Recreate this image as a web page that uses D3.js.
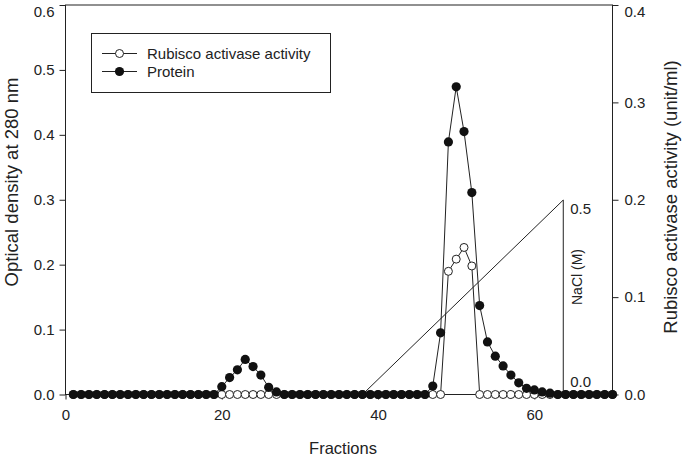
<!DOCTYPE html>
<html>
<head>
<meta charset="utf-8">
<script src="https://cdn.jsdelivr.net/npm/d3@7"></script>
<style>
  html, body { margin: 0; padding: 0; background: #fff; }
  svg { display: block; }
  text { font-family: "Liberation Sans", Arial, sans-serif; fill: #222; }
</style>
</head>
<body>
<svg id="chart" width="682" height="456"></svg>
<script>
// ---- data ----
const fractions = [1,2,3,4,5,6,7,8,9,10,11,12,13,14,15,16,17,18,19,20,
  21,22,23,24,25,26,27,28,29,30,31,32,33,34,35,36,37,38,39,40,
  41,42,43,44,45,46,47,48,49,50,51,52,53,54,55,56,57,58,59,60,
  61,62,63,64,65,66,67,68,69,70];
const protein = [0,0,0,0,0,0,0,0,0,0,0,0,0,0,0,0,0,0,0,0.012,
  0.026,0.038,0.054,0.043,0.030,0.011,0.004,0,0,0,0,0,0,0,0,0,0,0,0,0,
  0,0,0,0,0,0,0.013,0.095,0.389,0.474,0.405,0.311,0.137,0.081,0.059,0.044,0.030,0.018,0.0095,0.007,
  0.004,0.002,0,0,0,0,0,0,0,0];
const activity = [0,0,0,0,0,0,0,0,0,0,0,0,0,0,0,0,0,0,0,0,
  0,0,0,0,0,0,0,0,0,0,0,0,0,0,0,0,0,0,0,0,
  0,0,0,0,0,0,0,0,0.1265,0.139,0.151,0.132,0,0,0,0,0,0,0,0,
  0,0,0,0,0,0,0,0,0,0];
const naclFractions = [38, 63.7];
const naclValues = [0, 0.5];
const xTicks = [0, 20, 40, 60];
const yLeftTicks = [0, 0.1, 0.2, 0.3, 0.4, 0.5, 0.6];
const yRightTicks = [0, 0.1, 0.2, 0.3, 0.4];
const naclTicks = [0, 0.5];
const legendLabels = ["Rubisco activase activity", "Protein"];
const xTitle = "Fractions";
const yLeftTitle = "Optical density at 280 nm";
const yRightTitle = "Rubisco activase activity (unit/ml)";
const naclTitle = "NaCl (M)";

// ---- layout ----
const L = 65.5, R = 612.5, T = 5, B = 394.5;
const svg = d3.select("#chart");
const ink = "#222";

const x = d3.scaleLinear().domain([0, 70]).range([L, R]);
const yL = d3.scaleLinear().domain([0, 0.6]).range([B, T]);
const yR = d3.scaleLinear().domain([0, 0.4]).range([B, T]);
const yN = d3.scaleLinear().domain([0, 0.5]).range([B, 200]);

// frame
svg.append("rect").attr("x", L).attr("y", T).attr("width", R - L).attr("height", B - T)
  .attr("fill", "none").attr("stroke", ink).attr("stroke-width", 1);

function styleAxis(g) {
  g.select(".domain").remove();
  g.selectAll(".tick line").attr("stroke", ink);
  g.selectAll(".tick text").attr("fill", ink).style("font-size", "15px")
    .style("font-family", '"Liberation Sans", Arial, sans-serif');
}

svg.append("g").attr("transform", `translate(0,${B})`)
  .call(d3.axisBottom(x).tickValues(xTicks).tickFormat(d3.format("d")).tickSize(5).tickPadding(10))
  .call(styleAxis);
const gL = svg.append("g").attr("transform", `translate(${L},0)`)
  .call(d3.axisLeft(yL).tickValues(yLeftTicks).tickFormat(d3.format(".1f")).tickSize(6).tickPadding(5))
  .call(styleAxis);
const gR = svg.append("g").attr("transform", `translate(${R},0)`)
  .call(d3.axisRight(yR).tickValues(yRightTicks).tickFormat(d3.format(".1f")).tickSize(6).tickPadding(6))
  .call(styleAxis);
// keep the top labels inside the window
gL.selectAll(".tick").filter(d => d === 0.6).select("text").attr("dy", "0.75em");
gR.selectAll(".tick").filter(d => d === 0.4).select("text").attr("dy", "0.75em");

// NaCl gradient
const naclX = naclFractions.map(f => x(f));
svg.append("path")
  .attr("d", d3.line()([[naclX[0], yN(naclValues[0])], [naclX[1], yN(naclValues[1])], [naclX[1], yN(naclValues[0])]]))
  .attr("fill", "none").attr("stroke", ink).attr("stroke-width", 1);
svg.append("text").attr("x", naclX[1] + 7).attr("y", yN(naclTicks[1]) + 14)
  .style("font-size", "15px").text(d3.format(".1f")(naclTicks[1]));
svg.append("text").attr("x", naclX[1] + 7).attr("y", yN(naclTicks[0]) - 8)
  .style("font-size", "15px").text(d3.format(".1f")(naclTicks[0]));
svg.append("text").attr("transform", `translate(${naclX[1] + 19},${277}) rotate(-90)`)
  .attr("text-anchor", "middle").style("font-size", "14px").text(naclTitle);

// activity series (open circles)
const actPts = fractions.map((f, i) => [x(f), yR(activity[i])]);
svg.append("path").attr("d", d3.line()(actPts)).attr("fill", "none").attr("stroke", ink).attr("stroke-width", 1);
svg.append("g").selectAll("circle").data(actPts).join("circle")
  .attr("cx", d => d[0]).attr("cy", d => d[1]).attr("r", 4)
  .attr("fill", "#fff").attr("stroke", ink).attr("stroke-width", 1);

// protein series (filled circles)
const protPts = fractions.map((f, i) => [x(f), yL(protein[i])]);
svg.append("path").attr("d", d3.line()(protPts)).attr("fill", "none").attr("stroke", ink).attr("stroke-width", 1);
svg.append("g").selectAll("circle").data(protPts).join("circle")
  .attr("cx", d => d[0]).attr("cy", d => d[1]).attr("r", 4.6)
  .attr("fill", "#111").attr("stroke", "none");

// legend
const lg = svg.append("g");
lg.append("rect").attr("x", 91.5).attr("y", 33.5).attr("width", 239).attr("height", 59)
  .attr("fill", "#fff").attr("stroke", ink).attr("stroke-width", 1);
legendLabels.forEach((lab, i) => {
  const cy = 53.5 + i * 18;
  lg.append("line").attr("x1", 102).attr("x2", 137).attr("y1", cy).attr("y2", cy)
    .attr("stroke", ink).attr("stroke-width", 1);
  lg.append("circle").attr("cx", 119.5).attr("cy", cy).attr("r", i === 0 ? 4 : 4.6)
    .attr("fill", i === 0 ? "#fff" : "#111").attr("stroke", i === 0 ? ink : "none");
  lg.append("text").attr("x", 147).attr("y", cy + 5.5).style("font-size", "15px").text(lab);
});

// titles
svg.append("text").attr("x", (L + R) / 2 + 4).attr("y", 454).attr("text-anchor", "middle")
  .style("font-size", "16.5px").text(xTitle);
svg.append("text").attr("transform", `translate(18,182) rotate(-90)`)
  .attr("text-anchor", "middle").style("font-size", "18.5px").text(yLeftTitle);
svg.append("text").attr("transform", `translate(677,197) rotate(-90)`)
  .attr("text-anchor", "middle").style("font-size", "18.5px").text(yRightTitle);
</script>
</body>
</html>
